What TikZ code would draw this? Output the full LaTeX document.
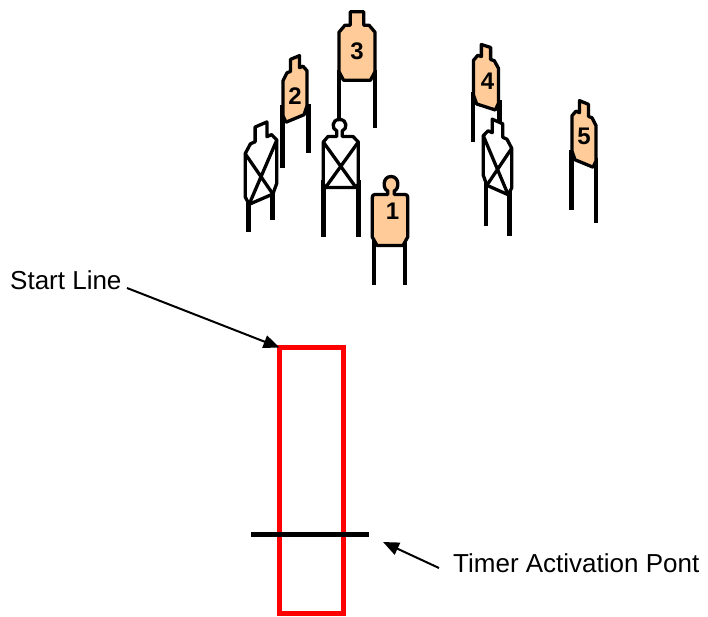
\documentclass[tikz,border=0pt]{standalone}
\usepackage{fontspec}
\setmainfont{Liberation Sans}
\usetikzlibrary{arrows.meta}
\definecolor{peach}{HTML}{FFCC99}
\definecolor{lanered}{RGB}{255,0,0}
\begin{document}
\begin{tikzpicture}[x=1pt,y=-1pt,
  outline/.style={line width=3.3pt, line join=round},
  leg/.style={line width=4.6pt},
  num/.style={font=\fontsize{24}{27}\selectfont\bfseries, inner sep=0pt},
  lbl/.style={font=\fontsize{26}{30}\selectfont, inner sep=0pt, anchor=base west},
  pointer/.style={line width=2pt, -{Triangle[length=16pt,width=13pt]}},
  % square-headed silhouette, local frame: origin at head top, v grows downward
  pics/shoot/.style={code={
    \draw[outline, fill=peach] (-6.7,0) -- (6.7,0) -- (6.7,13.5) -- (12,13.5)
      -- (18,20.5) -- (18,60) -- (13.5,68.5) -- (-13.5,68.5) -- (-18,60)
      -- (-18,20.5) -- (-12,13.5) -- (-6.7,13.5) -- cycle;}},
  pics/noshoot/.style={code={
    \draw[outline, fill=white] (-6.7,0) -- (6.7,0) -- (6.7,13.5) -- (12,13.5)
      -- (18,20.5) -- (18,60) -- (13.5,68.5) -- (-13.5,68.5) -- (-18,60)
      -- (-18,20.5) -- (-12,13.5) -- (-6.7,13.5) -- cycle;
    \draw[outline] (-18,20.5) -- (13.5,68.5) (18,20.5) -- (-13.5,68.5);}}
]
\useasboundingbox (0,0) rectangle (708,616);

% ---- target 3 (back, facing) ----
\draw[leg] (339,70) -- (339,122);
\draw[leg] (375,70) -- (375,128);
\pic (t3) [shift={(357,11.7)}] {shoot};
\node[num] (n3) at (357,51.7) {3};

% ---- target 4 (turned) ----
\draw[leg] (473,92) -- (473,142);
\draw[leg] (499.5,100) -- (499.5,125);
\pic (t4) [shift={(486,46)}, xscale=0.69, yscale=0.89, yslant=-0.25] {shoot};
\node[num] (n4) at (487.5,81.5) {4};

% ---- target 2 (turned) ----
\draw[leg] (282.5,105) -- (282.5,168);
\draw[leg] (308.5,104) -- (308.5,153);
\pic (t2) [shift={(295,57.5)}, xscale=0.667, yscale=0.89, yslant=0.31] {shoot};
\node[num] (n2) at (295,96.5) {2};

% ---- target 5 (turned) ----
\draw[leg] (571.5,150) -- (571.5,210);
\draw[leg] (596,158) -- (596,223);
\pic (t5) [shift={(584,102.5)}, xscale=0.67, yscale=0.89, yslant=-0.31] {shoot};
\node[num] (n5) at (584,136) {5};

% ---- no-shoot, left (turned) ----
\draw[leg] (248.5,195) -- (248.5,231.7);
\draw[leg] (272.7,185) -- (272.7,220);
\pic (ns1) [shift={(261,124.5)}, xscale=0.88, yscale=1.09, yslant=0.35] {noshoot};

% ---- no-shoot, right (turned) ----
\draw[leg] (486,180) -- (486,226);
\draw[leg] (509.5,185) -- (509.5,236);
\pic (ns3) [shift={(497.5,121.5)}, xscale=0.79, yslant=-0.35] {noshoot};

% ---- no-shoot, centre (facing, round head) ----
\draw[leg] (323.3,180) -- (323.3,236.7);
\draw[leg] (358.3,180) -- (358.3,236.7);
\draw[outline, fill=white] (336.8,136.5) -- (336.8,131)
  .. controls (331.5,129) and (331.5,119.5) .. (339.5,119.5)
  .. controls (347.5,119.5) and (347.5,129) .. (342.2,131)
  -- (342.2,136.5) -- (353,136.5) -- (358.3,142) -- (358.3,184) -- (356,187.5)
  -- (325.5,187.5) -- (323.3,184) -- (323.3,142) -- (328,136.5) -- cycle;
\draw[outline] (323.3,142) -- (356,187.5) (358.3,142) -- (325.5,187.5);

% ---- target 1 (front, round head) ----
\draw[leg] (374,240) -- (374,285);
\draw[leg] (405,240) -- (405,285);
\draw[outline, fill=peach] (387.8,194.5) -- (387.8,191)
  .. controls (382.5,189) and (382.5,176.5) .. (391,176.5)
  .. controls (399.5,176.5) and (399.5,189) .. (394.2,191)
  -- (394.2,194.5) -- (402,194.5)
  .. controls (407.7,194.5) .. (407.7,200)
  -- (407.7,237) -- (403,245.5) -- (377,245.5) -- (372.3,237) -- (372.3,200)
  .. controls (372.3,194.5) .. (378,194.5) -- cycle;
\node[num] (n1) at (392.5,211.7) {1};

% ---- shooting lane and timer line ----
\node[draw=lanered, line width=5pt, minimum width=64pt, minimum height=265.5pt,
      inner sep=0pt, outer sep=0pt] (lane) at (311.5,480.25) {};
\coordinate (timerL) at (251,534.5);
\coordinate (timerR) at (369,534.5);
\draw[line width=5pt] (timerL) -- (timerR);

% ---- labels and pointers ----
\node[lbl] (startlbl) at (10,289) {Start Line};
\coordinate (starttail) at (127,288);
\draw[pointer] (starttail) -- (lane.north west);

\node[lbl] (timerlbl) at (453,572) {Timer Activation Pont};
\coordinate (timertail) at (439,568);
\coordinate (timertip) at (383,542);
\draw[pointer] (timertail) -- (timertip);
\end{tikzpicture}
\end{document}
